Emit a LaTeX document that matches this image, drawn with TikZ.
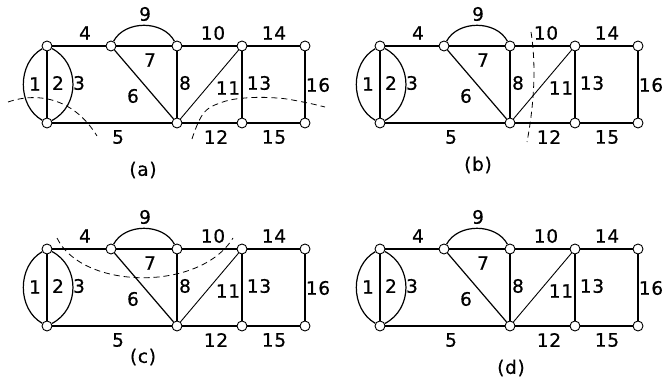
\documentclass[tikz,border=0pt]{standalone}
\usepackage{fontspec}
\newfontfamily\labfont[LetterSpace=4,FakeBold=0.6]{DejaVu Sans}
\tikzset{
  vx/.style={circle,draw,fill=white,inner sep=0pt,minimum size=10pt,line width=0.9pt},
  edge/.style={line width=1.2pt},
  thinedge/.style={line width=0.9pt},
  lab/.style={font=\labfont\fontsize{18.5}{18.5}\selectfont,inner sep=0pt},
  cut/.style={line width=0.8pt,dash pattern=on 6pt off 4pt},
}
\newcommand\graphpanel[1]{%
  \node[vx] (#1a1) at (47,46) {};
  \node[vx] (#1a2) at (47,123) {};
  \node[vx] (#1b)  at (111,46) {};
  \node[vx] (#1c1) at (177,46) {};
  \node[vx] (#1c2) at (177,123) {};
  \node[vx] (#1d1) at (242,46) {};
  \node[vx] (#1d2) at (242,123) {};
  \node[vx] (#1e1) at (305,46) {};
  \node[vx] (#1e2) at (305,123) {};
  \draw[edge] (#1a1) .. controls +(-30,17) and +(-30,-17) .. (#1a2);
  \draw[edge] (#1a1) -- (#1a2);
  \draw[edge] (#1a1) .. controls +(33,17) and +(33,-17) .. (#1a2);
  \draw[edge] (#1a1) -- (#1b);
  \draw[edge] (#1a2) -- (#1c2);
  \draw[edge] (#1b) -- (#1c2);
  \draw[edge] (#1b) -- (#1c1);
  \draw[edge] (#1c1) -- (#1c2);
  \draw[edge] (#1b) .. controls +(14,-26) and +(-14,-26) .. (#1c1);
  \draw[edge] (#1c1) -- (#1d1);
  \draw[thinedge] (#1c2) -- (#1d1);
  \draw[edge] (#1c2) -- (#1d2);
  \draw[edge] (#1d1) -- (#1d2);
  \draw[edge] (#1d1) -- (#1e1);
  \draw[edge] (#1d2) -- (#1e2);
  \draw[edge] (#1e1) -- (#1e2);
  \node[lab] (#1l1)  at (35,84) {1};
  \node[lab] (#1l2)  at (58,83) {2};
  \node[lab] (#1l3)  at (79,83) {3};
  \node[lab] (#1l4)  at (85,33) {4};
  \node[lab] (#1l5)  at (118,137) {5};
  \node[lab] (#1l6)  at (133,96) {6};
  \node[lab] (#1l7)  at (150,60) {7};
  \node[lab] (#1l8)  at (185,83) {8};
  \node[lab] (#1l9)  at (145,14) {9};
  \node[lab] (#1l10) at (213,33) {10};
  \node[lab] (#1l11) at (228,88) {11};
  \node[lab] (#1l12) at (216,137) {12};
  \node[lab] (#1l13) at (259,83) {13};
  \node[lab] (#1l14) at (274,33) {14};
  \node[lab] (#1l15) at (274,137) {15};
  \node[lab] (#1l16) at (318,85) {16};
}
\begin{document}
\begin{tikzpicture}[x=1pt,y=-1pt]
  \useasboundingbox (0,0) rectangle (663,387);
  % panel (a)
  \begin{scope}
    \graphpanel{pa}
  \end{scope}
  % panel (b)
  \begin{scope}[shift={(333,0)}]
    \graphpanel{pb}
  \end{scope}
  % panel (c)
  \begin{scope}[shift={(0,203)}]
    \graphpanel{pc}
  \end{scope}
  % panel (d)
  \begin{scope}[shift={(333,203)}]
    \graphpanel{pd}
  \end{scope}
  % captions
  \node[lab] (capa) at (143,170) {(a)};
  \node[lab] (capb) at (478,165) {(b)};
  \node[lab] (capc) at (143,357) {(c)};
  \node[lab] (capd) at (511,368) {(d)};
  % cut lines
  \draw[cut] (8,102) .. controls (40,91) and (75,100) .. (97,136);
  \draw[cut] plot[smooth,tension=0.7] coordinates {(192,139) (203,114) (220,103) (245,98) (277,98) (303,102) (325,107)};
  \draw[cut] (531,32) .. controls (537,70) and (533,110) .. (527,142);
  \draw[cut] (57,238) .. controls (82,290) and (200,292) .. (233,238);
\end{tikzpicture}
\end{document}
